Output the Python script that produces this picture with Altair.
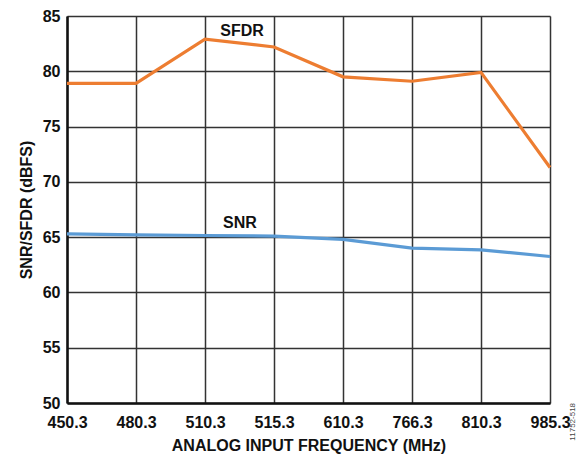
import altair as alt
import pandas as pd

freqs = ["450.3", "480.3", "510.3", "515.3", "610.3", "766.3", "810.3", "985.3"]
sfdr = [78.9, 78.9, 82.9, 82.2, 79.5, 79.1, 79.9, 71.3]
snr = [65.3, 65.2, 65.15, 65.1, 64.8, 64.0, 63.85, 63.25]

label_text = ["SFDR", "SNR"]
label_x = ["510.3", "510.3"]
label_y = [83.22, 65.83]
label_dx = [37, 35]

note_text = ["11752-518"]
note_x = ["985.3"]
note_y = [48.3]

df = pd.DataFrame({
    "freq": freqs * 2,
    "value": sfdr + snr,
    "series": ["SFDR"] * len(freqs) + ["SNR"] * len(freqs),
})
lab = pd.DataFrame({"text": label_text, "freq": label_x, "value": label_y, "dx": label_dx})
note = pd.DataFrame({"text": note_text, "freq": note_x, "value": note_y})

FONT = "Liberation Sans"
H = 387
W = 483

x_enc = alt.X(
    "freq:O",
    sort=freqs,
    scale=alt.Scale(domain=freqs, padding=0),
    axis=alt.Axis(
        title="ANALOG INPUT FREQUENCY (MHz)",
        labelAngle=0,
        ticks=False,
        tickSize=0,
        labelPadding=11,
        labelFont=FONT,
        labelFontSize=16,
        labelFontWeight="bold",
        labelColor="#111",
        titleFont=FONT,
        titleFontSize=16,
        titleFontWeight="bold",
        titleColor="#111",
        titleBaseline="alphabetic",
        titleY=47,
        titleX=W / 2,
        grid=True,
        gridColor="#333",
        gridWidth=1.5,
        domainColor="#111",
        domainWidth=2.5,
    ),
)
y_enc = alt.Y(
    "value:Q",
    scale=alt.Scale(domain=[50, 85], nice=False, zero=False),
    axis=alt.Axis(
        title="SNR/SFDR (dBFS)",
        values=[50, 55, 60, 65, 70, 75, 80, 85],
        ticks=False,
        tickSize=0,
        labelPadding=7,
        labelFont=FONT,
        labelFontSize=16,
        labelFontWeight="bold",
        labelColor="#111",
        titleFont=FONT,
        titleFontSize=16,
        titleFontWeight="bold",
        titleColor="#111",
        titleBaseline="alphabetic",
        titleX=-35.5,
        titleY=H / 2,
        grid=True,
        gridColor="#333",
        gridWidth=1.5,
        domainColor="#111",
        domainWidth=2.5,
    ),
)

lines = alt.Chart(df).mark_line(strokeWidth=3.2).encode(
    x=x_enc,
    y=y_enc,
    color=alt.Color(
        "series:N",
        scale=alt.Scale(domain=["SFDR", "SNR"], range=["#ED7D31", "#5B9BD5"]),
        legend=None,
    ),
)

labels_sfdr = alt.Chart(lab.iloc[[0]]).mark_text(
    font=FONT, fontSize=16, fontWeight="bold", color="#111", baseline="alphabetic", align="center", dx=label_dx[0]
).encode(x=alt.X("freq:O", sort=freqs), y="value:Q", text="text:N")
labels_snr = alt.Chart(lab.iloc[[1]]).mark_text(
    font=FONT, fontSize=16, fontWeight="bold", color="#111", baseline="alphabetic", align="center", dx=label_dx[1]
).encode(x=alt.X("freq:O", sort=freqs), y="value:Q", text="text:N")

note_mark = alt.Chart(note).mark_text(
    font=FONT, fontSize=8, color="#444", angle=270, baseline="middle", align="center", dx=0, dy=23
).encode(x=alt.X("freq:O", sort=freqs), y="value:Q", text="text:N")

chart = alt.layer(lines, labels_sfdr, labels_snr, note_mark).properties(
    width=W,
    height=H,
    autosize=alt.AutoSizeParams(type="none"),
    padding={"left": 59, "top": 8, "right": 26, "bottom": 51},
).configure_view(stroke="#444", strokeWidth=2).configure(background="white")

chart.save("out.html", embed_options={"renderer": "svg", "actions": False})
